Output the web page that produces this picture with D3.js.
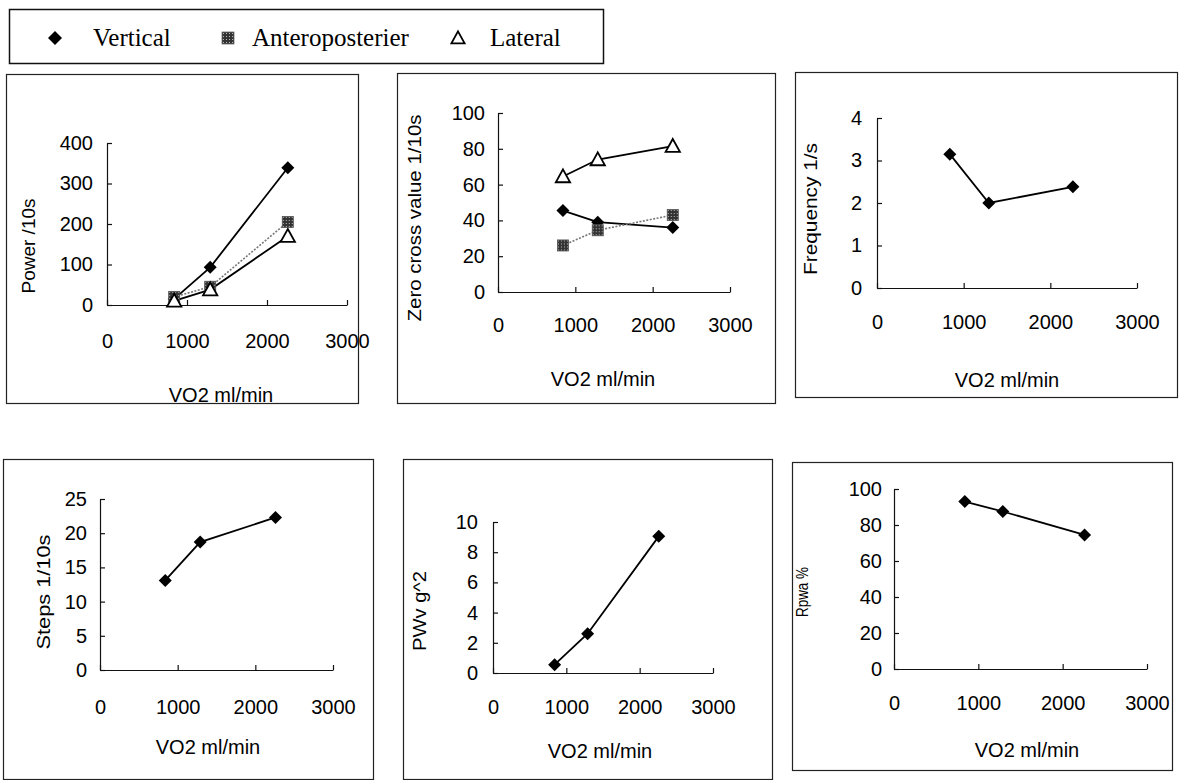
<!DOCTYPE html>
<html>
<head>
<meta charset="utf-8">
<script src="https://cdn.jsdelivr.net/npm/d3@7"></script>
<style>
  body { margin: 0; background: #fff; }
  svg { display: block; }
</style>
</head>
<body>
<div id="chart"></div>
<script>
// VO2 values shared by every panel
const vo2 = [840, 1290, 2260];
const xTicks = [0, 1000, 2000, 3000];

// Power /10s
const powerVertical = [15, 93, 339];
const powerAntero = [20, 45, 205];
const powerLateral = [10, 38, 170];
const powerTicks = [0, 100, 200, 300, 400];

// Zero cross value 1/10s
const zeroVertical = [45.5, 39, 36];
const zeroAntero = [26, 34.5, 43];
const zeroLateral = [64.5, 74, 81.5];
const zeroTicks = [0, 20, 40, 60, 80, 100];

// Frequency 1/s
const freqVertical = [3.15, 2.0, 2.38];
const freqTicks = [0, 1, 2, 3, 4];

// Steps 1/10s
const stepsVertical = [13.1, 18.7, 22.3];
const stepsTicks = [0, 5, 10, 15, 20, 25];

// PWv g^2
const pwvVertical = [0.55, 2.6, 9.05];
const pwvTicks = [0, 2, 4, 6, 8, 10];

// Rpwa %
const rpwaVertical = [93, 87.5, 74.5];
const rpwaTicks = [0, 20, 40, 60, 80, 100];

const seriesNames = ["Vertical", "Anteroposterier", "Lateral"];

const svg = d3.select("#chart").append("svg")
  .attr("width", 1180)
  .attr("height", 780);

// grainy fill for the anteroposterier squares
const pat = svg.append("defs").append("pattern")
  .attr("id", "grain")
  .attr("width", 3).attr("height", 3)
  .attr("patternUnits", "userSpaceOnUse");
pat.append("rect").attr("width", 3).attr("height", 3).attr("fill", "#333");
pat.append("rect").attr("x", 1).attr("y", 1).attr("width", 1).attr("height", 1).attr("fill", "#bbb");

const sans = "'Liberation Sans', Arial, sans-serif";
const serif = "'Liberation Serif', 'Times New Roman', serif";

function marker(sel, type, s) {
  if (type === "Vertical") {
    sel.append("path")
      .attr("d", `M0,${-s}L${s},0L0,${s}L${-s},0Z`)
      .attr("fill", "#000");
  } else if (type === "Anteroposterier") {
    sel.append("rect")
      .attr("x", -s * 0.85).attr("y", -s * 0.85)
      .attr("width", s * 1.7).attr("height", s * 1.7)
      .attr("fill", "url(#grain)")
      .attr("stroke", "#555").attr("stroke-width", 0.8);
  } else {
    const h = s * 1.1;
    sel.append("path")
      .attr("d", `M0,${-h}L${h},${h * 0.8}L${-h},${h * 0.8}Z`)
      .attr("fill", "#fff")
      .attr("stroke", "#000").attr("stroke-width", 1.8);
  }
}

// Legend
const legend = svg.append("g");
legend.append("rect")
  .attr("x", 9.5).attr("y", 9.5).attr("width", 594).attr("height", 54)
  .attr("fill", "none").attr("stroke", "#111").attr("stroke-width", 1.5);
const legendPos = [{ m: 55, t: 93 }, { m: 228, t: 252 }, { m: 458, t: 490 }];
seriesNames.forEach((name, i) => {
  const g = legend.append("g").attr("transform", `translate(${legendPos[i].m},38)`);
  marker(g, name, name === "Lateral" ? 6 : 7);
  legend.append("text")
    .attr("x", legendPos[i].t).attr("y", 46)
    .attr("font-family", serif).attr("font-size", 25)
    .text(name);
});

const panels = [
  {
    frame: [6, 74, 358, 403], x0: 107, x1: 347, yb: 305, yt: 143,
    yMax: 400, yTicks: powerTicks, yPad: 14, xPad: 29,
    xTitle: [221, 395], yTitle: [28, 246, null, 19], label: "Power  /10s",
    series: [["Vertical", powerVertical], ["Anteroposterier", powerAntero], ["Lateral", powerLateral]]
  },
  {
    frame: [397, 73, 775, 403], x0: 498, x1: 730, yb: 292, yt: 113,
    yMax: 100, yTicks: zeroTicks, yPad: 13, xPad: 26,
    xTitle: [603, 379], yTitle: [414, 218, 207, 19], label: "Zero cross value  1/10s",
    series: [["Vertical", zeroVertical], ["Anteroposterier", zeroAntero], ["Lateral", zeroLateral]]
  },
  {
    frame: [795, 72, 1177, 397], x0: 877, x1: 1137, yb: 288, yt: 118,
    yMax: 4, yTicks: freqTicks, yPad: 15, xPad: 27,
    xTitle: [1007, 380], yTitle: [810, 209, 132, 19], label: "Frequency 1/s",
    series: [["Vertical", freqVertical]]
  },
  {
    frame: [3, 459, 373, 779], x0: 100, x1: 333, yb: 670, yt: 499,
    yMax: 25, yTicks: stepsTicks, yPad: 13, xPad: 30,
    xTitle: [208, 747], yTitle: [43, 592, 115, 19], label: "Steps  1/10s",
    series: [["Vertical", stepsVertical]]
  },
  {
    frame: [403, 459, 772, 779], x0: 493, x1: 713, yb: 673, yt: 522,
    yMax: 10, yTicks: pwvTicks, yPad: 15, xPad: 27,
    xTitle: [600, 751], yTitle: [419, 611, 80, 19], label: "PWv  g^2",
    series: [["Vertical", pwvVertical]]
  },
  {
    frame: [792, 462, 1172, 770], x0: 894, x1: 1147, yb: 669, yt: 489,
    yMax: 100, yTicks: rpwaTicks, yPad: 12, xPad: 27,
    xTitle: [1027, 750], yTitle: [802, 592, 50, 17], label: "Rpwa %",
    series: [["Vertical", rpwaVertical]]
  }
];

panels.forEach((p) => {
  const [fx0, fy0, fx1, fy1] = p.frame;
  svg.append("rect")
    .attr("x", fx0 + 0.5).attr("y", fy0 + 0.5)
    .attr("width", fx1 - fx0).attr("height", fy1 - fy0)
    .attr("fill", "none").attr("stroke", "#222").attr("stroke-width", 1.2);

  const x = d3.scaleLinear().domain([0, 3000]).range([p.x0, p.x1]);
  const y = d3.scaleLinear().domain([0, p.yMax]).range([p.yb, p.yt]);

  const gx = svg.append("g")
    .attr("transform", `translate(0,${p.yb})`)
    .call(d3.axisBottom(x).tickValues(xTicks).tickSize(-5).tickSizeOuter(0)
      .tickPadding(p.xPad).tickFormat(d3.format("d")));
  const gy = svg.append("g")
    .attr("transform", `translate(${p.x0},0)`)
    .call(d3.axisLeft(y).tickValues(p.yTicks).tickSize(-5).tickSizeOuter(0)
      .tickPadding(p.yPad).tickFormat(d3.format("d")));
  [gx, gy].forEach((g) => {
    g.attr("font-family", sans).attr("font-size", 20);
    g.selectAll("path, line").attr("stroke", "#111").attr("stroke-width", 1.2);
    g.selectAll("text").attr("fill", "#000");
  });

  const line = d3.line().x((d) => x(d[0])).y((d) => y(d[1]));

  p.series.forEach(([name, vals]) => {
    const pts = vo2.map((v, i) => [v, vals[i]]);
    svg.append("path")
      .datum(pts)
      .attr("d", line)
      .attr("fill", "none")
      .attr("stroke", name === "Anteroposterier" ? "#777" : "#000")
      .attr("stroke-width", name === "Anteroposterier" ? 1.6 : 1.8)
      .attr("stroke-dasharray", name === "Anteroposterier" ? "2,1.5" : null);
  });
  p.series.forEach(([name, vals]) => {
    vo2.forEach((v, i) => {
      const g = svg.append("g").attr("transform", `translate(${x(v)},${y(vals[i])})`);
      marker(g, name, 6.5);
    });
  });

  svg.append("text")
    .attr("x", p.xTitle[0]).attr("y", p.xTitle[1])
    .attr("text-anchor", "middle").attr("dominant-baseline", "central")
    .attr("font-family", sans).attr("font-size", 20)
    .text("VO2  ml/min");

  const yt = svg.append("text")
    .attr("transform", `translate(${p.yTitle[0]},${p.yTitle[1]}) rotate(-90)`)
    .attr("text-anchor", "middle").attr("dominant-baseline", "central")
    .attr("font-family", sans).attr("font-size", p.yTitle[3])
    .text(p.label);
  if (p.yTitle[2]) {
    yt.attr("textLength", p.yTitle[2]).attr("lengthAdjust", "spacingAndGlyphs");
  }
});
</script>
</body>
</html>
